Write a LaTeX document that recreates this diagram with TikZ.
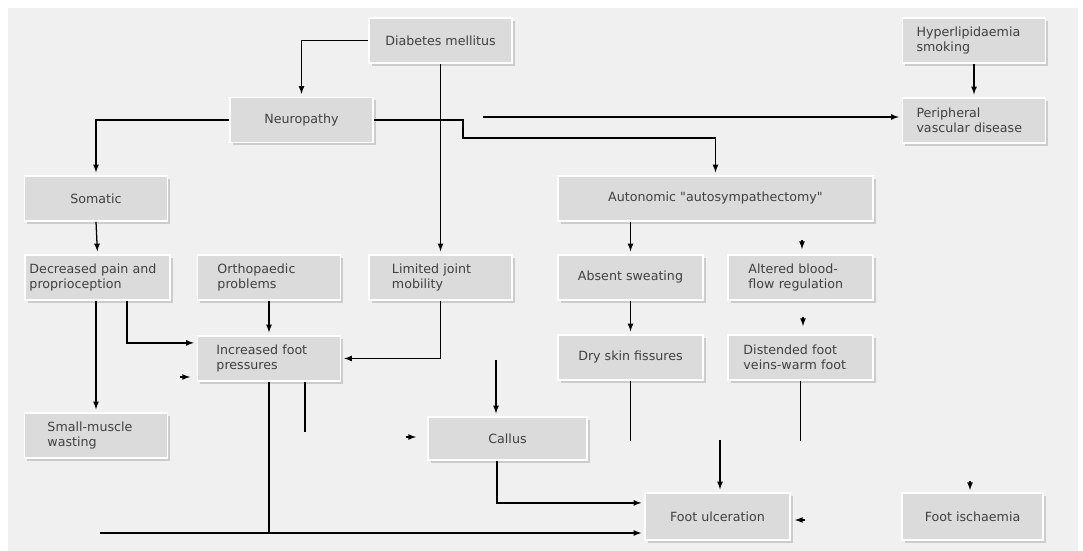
\documentclass[tikz,border=0pt]{standalone}
\usepackage{fontspec}
\setmainfont{DejaVu Sans}[Ligatures=TeXOff]
\usetikzlibrary{shadows}
\tikzset{
    box/.style={draw=white, line width=1.2pt, fill=black!14, text=black!75,
        minimum width=3.575cm, minimum height=1.125cm, inner sep=2pt,
        font=\fontsize{9}{10.5}\selectfont, align=center,
        drop shadow={shadow xshift=2pt, shadow yshift=-2pt, fill=black!20, opacity=1}},
    lbox/.style={box, text width=#1, align=left},
    arr/.style={-latex, shorten >=2pt}
}
\begin{document}
\begin{tikzpicture}[x=0.025cm, y=-0.025cm, line width=0.9pt]
    \fill[white] (0,0) rectangle (1083,551);
    \fill[black!6] (8,8) rectangle (1078,551);
    \useasboundingbox (0,0) rectangle (1083,551);

    \node[box] (dm) at (440.5,40.5) {Diabetes mellitus};
    \node[box] (neuro) at (301.5,120) {Neuropathy};
    \node[lbox=2.875cm] (hyper) at (974,40.5) {Hyperlipidaemia\\smoking};
    \node[lbox=2.875cm] (pvd) at (974,120.5) {Peripheral\\vascular disease};
    \node[box] (somatic) at (96,198.5) {Somatic};
    \node[box, minimum width=7.875cm] (auto) at (715.5,198.5) {Autonomic "autosympathectomy"};
    \node[lbox=3.4cm, minimum width=3.625cm] (pain) at (97.5,277.5) {Decreased pain and\\proprioception};
    \node[lbox=2.575cm] (ortho) at (269,277.5) {Orthopaedic\\problems};
    \node[lbox=2.425cm] (ljm) at (440.5,277.5) {Limited joint\\mobility};
    \node[box, minimum width=3.625cm] (sweat) at (630.5,277.5) {Absent sweating};
    \node[lbox=2.6cm, minimum width=3.625cm] (blood) at (800.5,277.5) {Altered blood-\\flow regulation};
    \node[lbox=2.625cm] (ifp) at (269,358.5) {Increased foot\\pressures};
    \node[box, minimum width=3.625cm] (dry) at (630.5,357.5) {Dry skin fissures};
    \node[lbox=2.85cm, minimum width=3.625cm] (veins) at (800.5,357.5) {Distended foot\\veins-warm foot};
    \node[lbox=2.425cm] (smw) at (96,435.5) {Small-muscle\\wasting};
    \node[box, minimum width=3.975cm, minimum height=1.075cm] (callus) at (507.5,438.5) {Callus};
    \node[box, minimum width=3.625cm, minimum height=1.175cm] (ulcer) at (717.5,516.5) {Foot ulceration};
    \node[box, minimum width=3.525cm, minimum height=1.175cm] (isch) at (972.5,516.5) {Foot ischaemia};

    \draw[arr] (dm.west) -| (neuro.north);
    \draw[arr] (dm.south) -- (ljm.north);
    \draw[arr] (neuro.west) -| (somatic.north);
    \coordinate (nb) at (463,138);
    \draw[arr] (neuro.east) -- (nb |- neuro.east) -- (nb) -| (auto.north);
    \coordinate (pv) at (483,117);
    \draw[arr] (pv) -- (pv -| pvd.west);
    \draw[arr] (hyper.south) -- (pvd.north);
    \draw[arr] (somatic.south) -- (pain.north);
    \draw[arr] (sweat.north |- auto.south) -- (sweat.north);
    \draw[arr] (sweat.south) -- (dry.north);
    \draw[arr] (smw.north |- pain.south) -- (smw.north);
    \draw[arr] ([xshift=0.74cm]pain.south) |- ([yshift=0.39cm]ifp.west);
    \draw[arr] (ifp.north |- ortho.south) -- (ifp.north);
    \draw[arr] (ljm.south) |- (ifp.east);

    \coordinate (bl) at (100,533);
    \draw[arr] (bl) -- (bl -| ulcer.west);
    \draw (ifp.south) -- (ifp.south |- bl);
    \draw ([xshift=0.9cm]ifp.south) -- ++(0,50);
    \coordinate (ct) at (496,360);
    \draw[arr] (ct) -- (ct |- callus.north);
    \draw[arr] ([xshift=-0.26cm]callus.south) |- ([yshift=0.34cm]ulcer.west);
    \draw (dry.south) -- ++(0,60);
    \draw (veins.south) -- ++(0,60);
    \coordinate (ut) at (720,440);
    \draw[arr] (ut) -- (ut |- ulcer.north);

    \coordinate (s1) at (802,240);
    \coordinate (s2) at (803,317);
    \coordinate (s3) at (180,377);
    \coordinate (s4) at (406,437);
    \coordinate (s5) at (805,520);
    \coordinate (s6) at (970,481);
    \draw[-latex] (s1) -- ++(0,9);
    \draw[-latex] (s2) -- ++(0,9);
    \draw[-latex] (s3) -- ++(10,0);
    \draw[-latex] (s4) -- ++(10,0);
    \draw[-latex] (s5) -- ++(-10,0);
    \draw[-latex] (s6) -- ++(0,9);
\end{tikzpicture}
\end{document}
